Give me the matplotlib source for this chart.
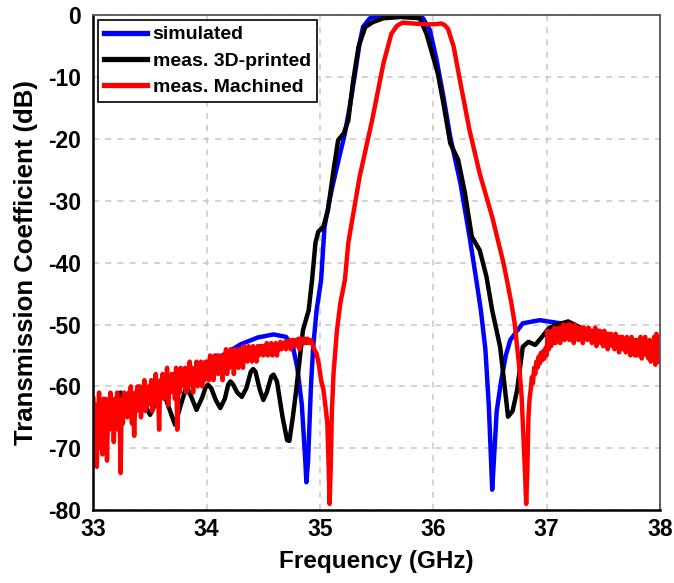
import numpy as np
import matplotlib
matplotlib.use("Agg")
import matplotlib.pyplot as plt

plt.rcParams['font.family'] = ['Liberation Sans', 'DejaVu Sans']
plt.rcParams['font.weight'] = 'bold'
plt.rcParams['axes.unicode_minus'] = False

# ---------------- data ----------------
sim_freq = [33.00, 33.50, 34.00, 34.12, 34.30, 34.45, 34.59, 34.70, 34.76, 34.80,
            34.84, 34.87, 34.88, 34.895, 34.92, 34.94, 34.97, 35.01, 35.04, 35.10,
            35.15, 35.22, 35.27, 35.31, 35.35, 35.38, 35.44, 35.50, 35.60, 35.70,
            35.80, 35.88, 35.91, 35.97, 36.03, 36.09, 36.15, 36.24, 36.32, 36.38,
            36.42, 36.46, 36.49, 36.51, 36.52, 36.535, 36.56, 36.60, 36.64, 36.68,
            36.79, 36.94, 37.12, 37.30, 37.50, 37.70, 38.00]
sim_db = [-64.5, -60.5, -56.5, -55.2, -53.2, -52.1, -51.6, -52.0, -53.5, -57.0,
          -63.0, -72.0, -75.5, -72.0, -60.0, -53.6, -47.7, -42.8, -34.2, -28.5,
          -24.5, -19.1, -14.0, -9.4, -4.5, -1.9, -0.5, -0.2, -0.1, -0.25,
          -0.1, -0.2, -0.5, -2.4, -7.3, -13.2, -19.7, -27.2, -35.8, -42.8,
          -47.7, -54.0, -63.0, -72.0, -76.7, -72.0, -64.0, -59.0, -55.0, -52.5,
          -49.8, -49.3, -49.8, -50.6, -51.6, -52.6, -54.0]

print_freq = [33.00, 33.06, 33.12, 33.20, 33.24, 33.31, 33.41, 33.50, 33.61, 33.72,
              33.82, 33.86, 33.91, 33.96, 33.99, 34.01, 34.04, 34.08, 34.12, 34.16,
              34.19, 34.21, 34.23, 34.27, 34.31, 34.35, 34.39, 34.41, 34.43, 34.47,
              34.50, 34.53, 34.57, 34.59, 34.62, 34.67, 34.71, 34.73, 34.76, 34.79,
              34.85, 34.90, 34.93, 34.96, 34.985, 35.03, 35.07, 35.12, 35.16, 35.21,
              35.25, 35.29, 35.34, 35.40, 35.47, 35.56, 35.71, 35.80, 35.88, 35.94,
              35.99, 36.04, 36.09, 36.15, 36.22, 36.28, 36.34, 36.41, 36.47, 36.52,
              36.59, 36.63, 36.66, 36.70, 36.74, 36.79, 36.84, 36.90, 36.96, 37.02,
              37.10, 37.19, 37.30, 37.45, 37.60, 37.65, 37.80, 37.90, 38.00]
print_db = [-63.0, -66.0, -67.5, -62.0, -61.0, -64.5, -61.5, -64.6, -60.5, -66.2,
            -60.0, -61.5, -63.8, -61.8, -60.2, -59.7, -60.3, -62.2, -63.5, -62.0,
            -59.7, -59.2, -59.6, -61.0, -61.7, -60.3, -57.6, -57.2, -57.6, -60.6,
            -62.2, -61.0, -58.4, -58.1, -59.2, -65.0, -68.7, -68.8, -65.0, -60.6,
            -50.9, -47.7, -42.8, -36.8, -35.0, -34.2, -31.5, -25.0, -20.2, -19.1,
            -17.0, -11.0, -5.1, -1.9, -1.1, -0.5, -0.3, -0.4, -0.5, -3.0,
            -6.2, -9.4, -14.3, -20.7, -23.4, -28.8, -35.8, -38.0, -42.3, -47.7,
            -53.6, -60.0, -64.9, -64.0, -60.6, -53.6, -52.8, -53.3, -52.0, -50.6,
            -50.0, -49.5, -50.5, -51.5, -53.0, -53.8, -54.5, -54.8, -55.5]

# machined: noisy lower band 33.00-34.90 GHz, 0.01 GHz sampling
mach_low_db = [
    -62, -68, -63, -73, -65, -61, -70, -64, -71, -62,
    -66, -62, -72, -63, -67, -61, -65, -63, -69, -62,
    -64, -61, -67, -63, -74, -62, -66, -61, -64, -62,
    -65, -61, -63, -60, -66, -62, -68, -61, -64, -60,
    -63, -60, -65, -61, -62, -59, -64, -61, -63, -60,
    -62, -59, -64, -60, -61, -58, -63, -60, -67, -59,
    -61, -58, -62, -59, -60, -57, -63, -59, -61, -58,
    -60, -58, -62, -57, -67, -59, -61, -57, -60, -58,
    -59, -57, -61, -58, -60, -56, -59, -57, -61, -58,
    -59, -56, -60, -57, -58, -56, -60, -57, -59, -56,
    -58, -56, -59, -55, -58, -56, -59, -55, -57, -55,
    -58, -55, -57, -56, -59, -55, -57, -54, -58, -55,
    -57, -54, -56, -55, -58, -54, -56, -55, -57, -54,
    -56, -54, -57, -53.5, -55, -54, -56, -53.5, -55, -54,
    -56, -53.5, -55, -54, -56, -53.5, -55, -53.5, -54.5, -53.5,
    -55, -53.5, -54.5, -53, -55, -53.5, -54, -53, -55, -53.5,
    -54, -53, -55, -53.5, -54, -52.8, -54, -53.5, -53.5, -52.8,
    -54, -52.8, -53.5, -52.5, -54, -52.5, -53.5, -52.5, -53.5, -52.5,
    -53, -52.3, -54, -52.3, -53, -52.3, -53, -52.3, -53, -52.3, -53]
mach_low_start, mach_low_stop = 33.00, 34.90

mach_mid_freq = [34.92, 34.95, 34.97, 34.99, 35.01, 35.03, 35.05, 35.065, 35.075, 35.085,
                 35.095, 35.105, 35.12, 35.15, 35.18, 35.22, 35.25, 35.35, 35.46, 35.56,
                 35.63, 35.68, 35.73, 35.79, 35.87, 35.94, 36.02, 36.07, 36.10, 36.13,
                 36.18, 36.24, 36.32, 36.41, 36.52, 36.62, 36.65, 36.69, 36.72, 36.74,
                 36.76, 36.78, 36.795, 36.81, 36.82, 36.83, 36.84, 36.85, 36.86, 36.87,
                 36.88, 36.89, 36.90, 36.91, 36.92, 36.93, 36.94, 36.95, 36.96, 36.97,
                 36.98, 36.99]
mach_mid_db = [-52.5, -54.0, -54.7, -56.5, -59.0, -60.5, -63.5, -66.0, -72.0, -79.0,
               -73.0, -64.0, -57.8, -50.9, -46.5, -42.8, -36.8, -26.1, -17.0, -7.8,
               -3.0, -1.7, -1.2, -1.3, -1.4, -1.5, -1.45, -1.35, -1.6, -2.2,
               -5.1, -11.0, -18.6, -25.6, -32.6, -40.1, -42.8, -46.6, -50.0, -53.6,
               -57.0, -61.7, -68.0, -74.0, -79.0, -74.0, -65.0, -62.0, -60.5, -58.5,
               -59.5, -57.0, -58.0, -56.0, -57.0, -55.2, -56.3, -54.6, -55.8, -54.3,
               -55.5, -53.8]

# machined: noisy upper band 37.00-38.00 GHz, 0.01 GHz sampling
mach_high_db = [
    -55, -51, -54, -51.5, -53.5, -51, -53, -50.5, -53, -51,
    -52.5, -50.5, -53, -50.5, -52, -50, -52.5, -50.5, -52, -50,
    -52.5, -50, -52, -50.5, -53, -50, -52, -50.5, -52.5, -50.5,
    -52, -50.5, -53, -50.5, -52, -51, -52.5, -50.5, -52, -51,
    -53, -51, -52.5, -50.5, -53.5, -51, -52.5, -51, -53, -51.5,
    -53.5, -51, -53, -51.5, -54, -51.5, -53, -51.5, -53.5, -52,
    -54, -51.5, -53.5, -52, -54.5, -52, -53.5, -52, -54, -52.5,
    -54.5, -52, -54, -52.5, -55, -52, -54.5, -52.5, -55, -52.5,
    -55, -52.5, -54.5, -52, -55.5, -53, -54.5, -52, -55, -53,
    -55.5, -52.5, -56, -53, -55, -52, -56.5, -51.5, -55.5, -53, -56]
mach_high_start, mach_high_stop = 37.00, 38.00

x_ticks = [33, 34, 35, 36, 37, 38]
y_ticks = [0, -10, -20, -30, -40, -50, -60, -70, -80]
labels = ["simulated", "meas. 3D-printed", "meas. Machined"]

# ---------------- figure ----------------
mach_freq = np.concatenate([
    np.linspace(mach_low_start, mach_low_stop, len(mach_low_db)),
    np.array(mach_mid_freq),
    np.linspace(mach_high_start, mach_high_stop, len(mach_high_db))])
mach_db = np.concatenate([mach_low_db, mach_mid_db, mach_high_db])

fig = plt.figure(figsize=(6.74, 5.83), dpi=100)
ax = fig.add_axes([0.1386, 0.125, 0.8404, 0.849])

lw = 3.2
ax.plot(sim_freq, sim_db, color="#0000ff", lw=lw, label=labels[0], solid_joinstyle="round")
ax.plot(print_freq, print_db, color="black", lw=lw, label=labels[1], solid_joinstyle="round")
ax.plot(mach_freq, mach_db, color="#ff0000", lw=lw, label=labels[2], solid_joinstyle="round")

ax.set_xlim(33, 38)
ax.set_ylim(-80, 0)
ax.set_xticks(x_ticks)
ax.set_yticks(y_ticks)
ax.tick_params(axis="x", labelsize=16.5, length=0, pad=6)
ax.tick_params(axis="y", labelsize=16.5, length=0, pad=9)
for t in ax.get_xticklabels() + ax.get_yticklabels():
    t.set_fontweight("bold")

ax.grid(True, color="#c8c8c8", linestyle=(0, (4, 4)), linewidth=1.1)
ax.set_axisbelow(True)

ax.set_xlabel("Frequency (GHz)", fontsize=17.5, fontweight="bold", labelpad=6)
ax.set_ylabel("Transmission Coefficient (dB)", fontsize=18.5, fontweight="bold", labelpad=7)

for side in ["left", "bottom"]:
    ax.spines[side].set_color("black")
    ax.spines[side].set_linewidth(1.8)
for side in ["top", "right"]:
    ax.spines[side].set_color("#555555")
    ax.spines[side].set_linewidth(1.3)

leg = ax.legend(loc="upper left", fontsize=14, frameon=True, fancybox=False,
                edgecolor="black", framealpha=1, handlelength=2.2,
                handletextpad=0.3, borderaxespad=0.25, borderpad=0.3,
                labelspacing=0.45)
leg.get_frame().set_linewidth(1.2)
for txt in leg.get_texts():
    txt.set_fontweight("bold")
for line in leg.get_lines():
    line.set_linewidth(3.8)

fig.savefig("out.png", dpi=100)
